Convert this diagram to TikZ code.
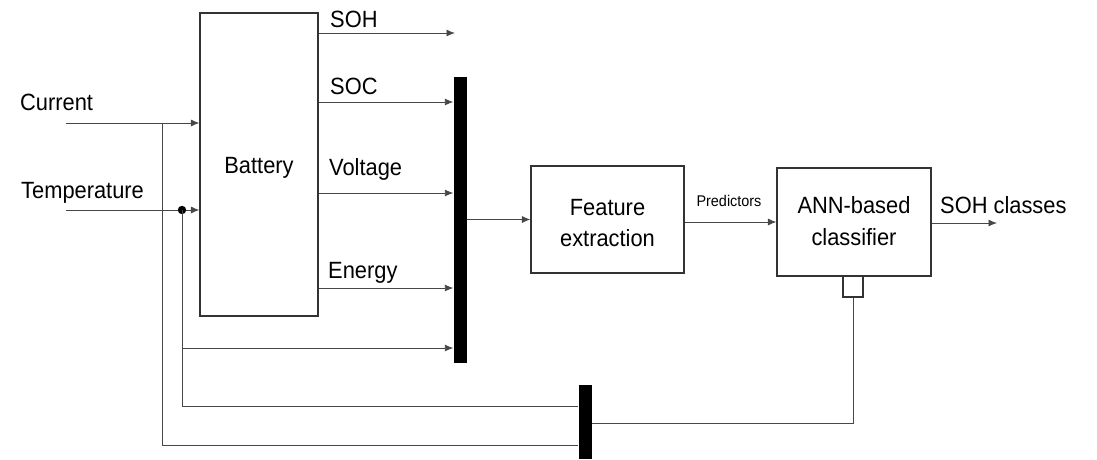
\documentclass[tikz,border=0pt]{standalone}
\usepackage{fontspec}
\setmainfont{Liberation Sans}[FakeStretch=0.93]
\usetikzlibrary{arrows.meta}
\tikzset{
  ln/.style={draw=black!72, line width=0.9pt},
  arr/.style={ln, -{Latex[length=8.5pt,width=7pt]}},
  blk/.style={draw=black!80, line width=1.1pt, fill=white, inner sep=0pt},
  bar/.style={fill=black, draw=none, inner sep=0pt, minimum width=13pt},
  lbl/.style={inner sep=0pt, font=\fontsize{23.5}{31}\selectfont},
  small/.style={inner sep=0pt, font=\fontsize{15.5}{18}\selectfont},
}
\begin{document}
\begin{tikzpicture}[x=1pt,y=-1pt]
\useasboundingbox (0,0) rectangle (1097,459);
% blocks
\node[blk, minimum width=118pt, minimum height=303pt] (bat) at (259,164.5) {};
\node[lbl, anchor=base] (batt) at (259,173) {Battery};
\node[blk, minimum width=153pt, minimum height=107pt] (feat) at (607.5,219.5) {};
\node[lbl, anchor=base, align=center] (featt) at (607.5,215) {Feature};
\node[lbl, anchor=base] (featt2) at (607.5,246) {extraction};
\node[blk, minimum width=154pt, minimum height=108pt] (ann) at (854,222) {};
\node[lbl, anchor=base] (annt) at (854,213) {ANN-based};
\node[lbl, anchor=base] (annt2) at (854,245) {classifier};
\node[blk, minimum width=20pt, minimum height=21pt] (sq) at (853,286.5) {};
\node[bar, minimum height=286pt] (bar1) at (460,220) {};
\node[bar, minimum height=74pt] (bar2) at (585,422) {};
% input labels
\node[lbl, anchor=base west] (lcur) at (20,110) {Current};
\node[lbl, anchor=base west] (ltemp) at (21,198) {Temperature};
\coordinate (cin) at (66,123);
\coordinate (tin) at (66,210);
\coordinate (j1) at (162,123);
\coordinate (j2) at (182,210);
\draw[arr] (cin) -- (bat.west |- cin);
\draw[arr] (tin) -- (bat.west |- tin);
\fill[black] (j2) circle (4.2pt);
\draw[ln] (j1) |- (bar2.west |- 0,445);
\draw[ln] (j2) |- (bar2.west |- 0,406);
\draw[arr] (j2 |- 0,348) -- (bar1.west |- 0,348);
% battery outputs
\coordinate (sohend) at (455,33);
\draw[arr] (bat.east |- sohend) -- (sohend);
\node[lbl, anchor=base west] (lsoh) at (330,27) {SOH};
\draw[arr] (bat.east |- 0,102) -- (bar1.west |- 0,102);
\node[lbl, anchor=base west] (lsoc) at (330,94) {SOC};
\draw[arr] (bat.east |- 0,193) -- (bar1.west |- 0,193);
\node[lbl, anchor=base west] (lvol) at (329,175) {Voltage};
\draw[arr] (bat.east |- 0,288) -- (bar1.west |- 0,288);
\node[lbl, anchor=base west] (lene) at (328,278) {Energy};
% main path
\draw[arr] (bar1.east |- feat.west) -- (feat.west);
\draw[arr] (feat.east |- 0,222) -- (ann.west);
\node[small, anchor=base] (lpred) at (729,206) {Predictors};
\coordinate (outend) at (997,223);
\draw[arr] (ann.east |- outend) -- (outend);
\node[lbl, anchor=base west] (lout) at (940,213) {SOH classes};
% feedback
\draw[ln] (sq.south) |- (bar2.east |- 0,423);
\end{tikzpicture}
\end{document}
